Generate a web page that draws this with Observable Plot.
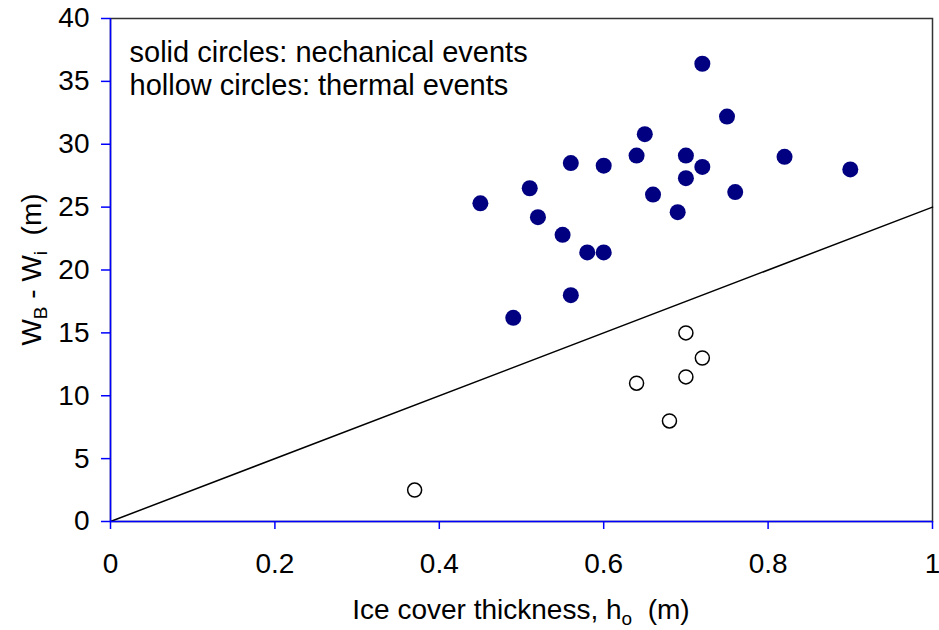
<!DOCTYPE html>
<html>
<head>
<meta charset="utf-8">
<script src="https://cdn.jsdelivr.net/npm/d3@7"></script>
<script src="https://cdn.jsdelivr.net/npm/@observablehq/plot@0.6"></script>
<style>
  html, body { margin: 0; padding: 0; background: #fff; }
</style>
</head>
<body>
<div id="chart"></div>
<script>
// Mechanical events (solid circles)
const solidX = [0.45, 0.51, 0.52, 0.56, 0.60, 0.55, 0.58, 0.60, 0.56, 0.49, 0.65, 0.64, 0.70, 0.70, 0.66, 0.69, 0.72, 0.72, 0.75, 0.76, 0.82, 0.90];
const solidY = [25.3, 26.5, 24.2, 28.5, 28.3, 22.8, 21.4, 21.4, 18.0, 16.2, 30.8, 29.1, 29.1, 27.3, 26.0, 24.6, 28.2, 36.4, 32.2, 26.2, 29.0, 28.0];
// Thermal events (hollow circles)
const hollowX = [0.70, 0.72, 0.70, 0.64, 0.68, 0.37];
const hollowY = [15.0, 13.0, 11.5, 11.0, 8.0, 2.5];
// Dividing line
const lineX = [0, 1];
const lineY = [0, 25];
// Ticks
const xTicks = [0, 0.2, 0.4, 0.6, 0.8, 1];
const yTicks = [0, 5, 10, 15, 20, 25, 30, 35, 40];
const legendLines = ["solid circles: nechanical events", "hollow circles: thermal events"];

const FONT = "'Liberation Sans', Arial, Helvetica, sans-serif";
const FS = 28;

const solid = solidX.map((x, i) => ({x, y: solidY[i]}));
const hollow = hollowX.map((x, i) => ({x, y: hollowY[i]}));
const line = lineX.map((x, i) => ({x, y: lineY[i]}));

function titles(index, scales, values, dims) {
  const g = d3.create("svg:g")
    .attr("font-family", FONT)
    .attr("font-size", FS)
    .attr("fill", "black");
  const cx = (dims.marginLeft + dims.width - dims.marginRight) / 2;
  const cy = (dims.marginTop + dims.height - dims.marginBottom) / 2;
  // x title
  const xt = g.append("text").attr("x", cx).attr("y", dims.height - 11).attr("text-anchor", "middle");
  xt.append("tspan").text("Ice cover thickness, h");
  xt.append("tspan").attr("font-size", 19).attr("dy", 6).text("o");
  xt.append("tspan").attr("dy", -6).text("\u00A0 (m)");
  // y title
  const yt = g.append("text").attr("transform", `translate(41,${cy}) rotate(-90)`).attr("text-anchor", "middle");
  yt.append("tspan").text("W");
  yt.append("tspan").attr("font-size", 19).attr("dy", 6).text("B");
  yt.append("tspan").attr("dy", -6).text(" - W");
  yt.append("tspan").attr("font-size", 19).attr("dy", 6).text("i");
  yt.append("tspan").attr("dy", -6).text("\u00A0 (m)");
  return g.node();
}

const chart = Plot.plot({
  width: 939,
  height: 630,
  marginLeft: 110,
  marginRight: 7,
  marginTop: 18,
  marginBottom: 109,
  x: {domain: [0, 1]},
  y: {domain: [0, 40]},
  style: {fontFamily: FONT, fontSize: FS + "px", background: "white", color: "black"},
  marks: [
    Plot.frame({stroke: "#333", strokeWidth: 1.5}),
    Plot.line(line, {x: "x", y: "y", stroke: "black", strokeWidth: 1.5}),
    Plot.dot(hollow, {x: "x", y: "y", r: 7, fill: "white", stroke: "black", strokeWidth: 1.5}),
    Plot.dot(solid, {x: "x", y: "y", r: 8, fill: "#000080", stroke: "none"}),
    Plot.ruleX([0], {stroke: "#0000ff", strokeWidth: 1.5}),
    Plot.ruleY([0], {stroke: "#0000ff", strokeWidth: 1.5}),
    Plot.axisY(yTicks, {tickSize: 9, tickPadding: 12, stroke: "#0000ff", strokeWidth: 1.5, fontSize: FS, label: null}),
    Plot.axisX(xTicks, {tickSize: 8, tickPadding: 24, stroke: "#0000ff", strokeWidth: 1.5, fontSize: FS, label: null, tickFormat: d => String(d)}),
    Plot.text([legendLines.join("\n")], {text: d => d, frameAnchor: "top-left", textAnchor: "start", lineAnchor: "top", dx: 19, dy: 20, lineHeight: 1.13, fontSize: 29}),
    titles
  ]
});
document.getElementById("chart").appendChild(chart);
</script>
</body>
</html>
